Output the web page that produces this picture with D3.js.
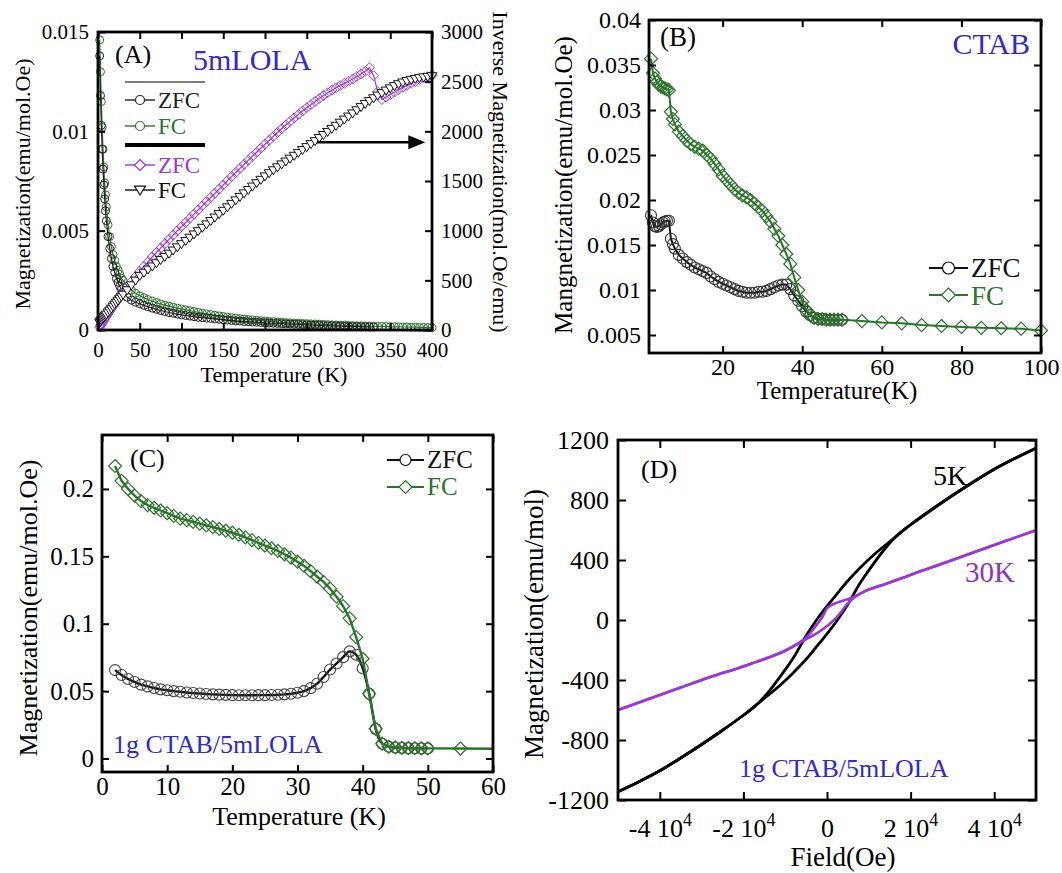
<!DOCTYPE html>
<html lang="en">
<head>
<meta charset="UTF-8">
<title>Magnetization of 5mLOLA and CTAB samples</title>
<script src="https://d3js.org/d3.v7.min.js"></script>
<style>
  body { margin: 0; background: #fff; }
  svg { display: block; }
</style>
</head>
<body>
<svg width="1062" height="873"></svg>
<script>
// ---------- (A) 5mLOLA : M(T) left axis, 1/M(T) right axis ----------
const tempA = [2,3,4,5,6,7,8,9,10,12,14,16,18,20,22,24,26,28,30,
  35,40,45,50,55,60,65,70,75,80,85,90,95,100,105,110,115,120,125,130,135,140,145,150,
  155,160,165,170,175,180,185,190,195,200,205,210,215,220,225,230,235,240,245,250,
  255,260,265,270,275,280,285,290,295,300,305,310,315,320,325,330,335,340,345,350,
  355,360,365,370,375,380,385,390,395,400];
const zfcA = [0.0138,0.0118,0.0103,0.0091,0.0081,0.0073,0.0066,0.0060,0.0055,
  0.0047,0.0041,0.0036,0.0032,0.0029,0.0026,0.0024,0.0022,0.00205,0.0019,
  0.00165,0.00150,0.00140,0.00132,0.00124,0.00117,0.00110,0.00104,0.00098,0.00093,0.00088,0.00084,0.00080,0.00076,
  0.00073,0.00070,0.00067,0.00064,0.00062,0.00060,0.00058,0.00056,0.00054,0.00052,
  0.00050,0.00048,0.00046,0.00045,0.00043,0.00042,0.00040,0.00039,0.00038,0.00036,
  0.00035,0.00034,0.00033,0.00032,0.00031,0.00030,0.00029,0.00028,0.00027,0.00026,
  0.00025,0.00024,0.00023,0.00022,0.00021,0.00021,0.00020,0.00019,0.00018,0.00018,
  0.00017,0.00017,0.00016,0.00016,0.00015,0.00015];
const fcA = [0.0146,0.0130,0.0115,0.0102,0.0091,0.0082,0.0074,0.0068,0.0062,
  0.0053,0.0047,0.0042,0.0038,0.0035,0.0032,0.0030,0.0028,0.0026,0.0025,
  0.0022,0.0020,0.00185,0.00172,0.00162,0.00153,0.00145,0.00138,0.00131,0.00125,0.00120,0.00115,0.00110,0.00106,
  0.00101,0.00097,0.00093,0.00089,0.00085,0.00081,0.00078,0.00074,0.00071,0.00068,
  0.00065,0.00062,0.00060,0.00057,0.00055,0.00053,0.00051,0.00049,0.00047,0.00045,
  0.00043,0.00042,0.00040,0.00039,0.00037,0.00036,0.00035,0.00034,0.00033,0.00032,
  0.00031,0.00030,0.00029,0.00028,0.00027,0.00026,0.00025,0.00024,0.00024,0.00023,
  0.00022,0.00021,0.00021,0.00020,0.00020,0.00019,0.00018,0.00018,0.00017,0.00017,
  0.00016,0.00016,0.00015,0.00015,0.00014,0.00014,0.00013,0.00013,0.00012,0.00012];
const invZfcA = [30,45,60,72,85,100,112,125,138,
  162,188,213,238,262,286,310,333,356,380,
  435,490,540,590,640,688,735,780,825,868,912,955,998,1040,
  1082,1124,1166,1208,1250,1292,1334,1376,1418,1460,
  1502,1544,1586,1627,1668,1709,1750,1790,1830,1870,
  1910,1949,1988,2026,2063,2100,2136,2171,2205,2238,
  2270,2301,2331,2360,2388,2414,2438,2461,2483,2504,
  2527,2552,2578,2604,2640,2560,2400,2320,2345,2370,
  2395,2420,2442,2463,2483,2502,2520,2536,2550,2563];
const invFcA = [75,85,95,105,115,125,135,145,155,
  175,195,215,235,255,275,295,315,335,355,
  400,450,497,545,576,608,640,672,704,736,768,800,832,864,
  896,929,962,995,1029,1063,1097,1132,1166,1200,
  1235,1270,1305,1340,1375,1410,1444,1478,1512,1546,
  1578,1608,1638,1667,1696,1725,1754,1783,1812,1841,
  1871,1901,1932,1963,1994,2025,2056,2087,2118,2149,
  2180,2212,2244,2276,2305,2333,2360,2385,2410,2433,
  2455,2475,2492,2506,2518,2528,2536,2543,2549,2555];
const ticksAx = [0,50,100,150,200,250,300,350,400];
const ticksAy = [0,0.005,0.01,0.015];
const ticksAyR = [0,500,1000,1500,2000,2500,3000];

// ---------- (B) CTAB ----------
const tempB = [2,2.5,3,3.5,4,4.5,5,5.5,6,6.5,7,7.5,8,
  9,10,11,12,13,14,15,16,17,18,19,20,21,22,23,24,25,26,27,28,29,30,
  31,32,33,34,35,36,37,38,39,40,41,42,43,44,45,46,47,48,49,50,
  55,60,65,70,75,80,85,90,95,100];
const fcB = [0.0357,0.0341,0.0335,0.0331,0.0328,0.0326,0.0325,0.0324,0.0323,0.0322,0.0298,0.0290,0.0284,
  0.0276,0.0271,0.0266,0.0262,0.0259,0.0257,0.0255,0.0250,0.0246,0.0240,0.0234,0.0227,
  0.0222,0.0217,0.0212,0.0208,0.0205,0.0203,0.0200,0.0196,0.0192,0.0188,
  0.0182,0.0176,0.0168,0.0160,0.0150,0.0140,0.0129,0.0114,0.0100,0.0087,
  0.0078,0.0072,0.0069,0.0068,0.00675,0.0067,0.0067,0.0067,0.0067,0.0067,
  0.00655,0.0064,0.0063,0.0061,0.0060,0.0059,0.0058,0.00575,0.0057,0.0055];
const zfcB = [0.0183,0.0175,0.0171,0.0170,0.0171,0.0173,0.0175,0.0176,0.0177,0.0177,0.0157,0.0151,0.0146,
  0.0139,0.0135,0.0131,0.0128,0.0125,0.0123,0.0121,0.0119,0.0115,0.0112,0.0109,0.0107,
  0.0105,0.0103,0.0101,0.0099,0.0098,0.0097,0.0097,0.0097,0.0098,0.0098,
  0.0099,0.0101,0.0103,0.0105,0.0106,0.0106,0.0101,0.0094,0.0088,0.0082,
  0.0076,0.0072,0.0069,0.0068,0.0068,0.0067,0.0067,0.0067,0.0067,0.0067];
const ticksBx = [20,40,60,80,100];
const ticksBy = [0.005,0.01,0.015,0.02,0.025,0.03,0.035,0.04];

// ---------- (C) 1g CTAB/5mLOLA ----------
const tempC = [2,3,4,5,6,7,8,9,10,11,12,13,14,15,16,17,18,19,20,
  21,22,23,24,25,26,27,28,29,30,31,32,33,34,35,36,37,38,39,40,
  41,42,43,44,45,46,47,48,49,50,55,60];
const fcC = [0.217,0.206,0.200,0.195,0.191,0.188,0.186,0.184,0.182,
  0.180,0.178,0.1768,0.1755,0.1743,0.173,0.1717,0.1703,0.169,0.1675,
  0.166,0.164,0.162,0.160,0.158,0.156,0.154,0.1515,0.149,0.146,
  0.143,0.139,0.135,0.131,0.126,0.120,0.113,0.104,0.090,0.074,
  0.048,0.022,0.011,0.0088,0.0082,0.0079,0.0077,0.0076,0.0075,0.0075,
  0.0074,0.0072];
const zfcC = [0.0656,0.062,0.059,0.0568,0.0548,0.0535,0.0523,0.0513,0.0506,
  0.0500,0.0495,0.0490,0.0486,0.0482,0.0479,0.0476,0.0474,0.0472,0.0470,
  0.0469,0.0469,0.0469,0.0470,0.0470,0.0471,0.0473,0.0476,0.0480,0.0488,
  0.0500,0.0522,0.0555,0.0605,0.0660,0.0705,0.0752,0.0795,0.0770,0.0670,
  0.048,0.022,0.011,0.0088,0.0082,0.0079,0.0077,0.0076,0.0075,0.0075];
const ticksCx = [0,10,20,30,40,50,60];
const ticksCy = [0,0.05,0.1,0.15,0.2];

// ---------- (D) M(H) loops, [field Oe, emu/mol] ----------
const down5K = [[50000,1145],[45000,1078],[40000,1005],[35000,920],[30000,830],[25000,735],[20000,635],
  [17000,568],[14000,500],[11000,430],[8000,350],[5000,262],[2500,178],[0,92],[-2500,0],[-5000,-105],
  [-8000,-250],[-11000,-370],[-14000,-480],[-17000,-570],[-20000,-635],[-25000,-735],[-30000,-830],
  [-35000,-920],[-40000,-1005],[-45000,-1078],[-50000,-1145]];
const up5K = [[-50000,-1145],[-45000,-1078],[-40000,-1005],[-35000,-920],[-30000,-830],[-25000,-735],[-20000,-635],
  [-17000,-568],[-14000,-500],[-11000,-430],[-8000,-350],[-5000,-262],[-2500,-178],[0,-92],[2500,0],[5000,105],
  [8000,250],[11000,370],[14000,480],[17000,570],[20000,635],[25000,735],[30000,830],
  [35000,920],[40000,1005],[45000,1078],[50000,1145]];
const up30K = [[-50000,-600],[-42000,-520],[-35000,-450],[-27000,-372],[-22000,-328],[-18000,-290],
  [-14000,-250],[-10000,-205],[-7000,-160],[-5000,-128],[-3000,-98],[-1000,-62],[0,-40],[1500,-5],
  [3000,40],[4500,95],[6000,138],[8000,175],[10000,203],[14000,240],[18000,280],[22000,322],
  [27000,370],[35000,450],[42000,520],[50000,598]];
const down30K = [[50000,598],[42000,520],[35000,450],[27000,370],[22000,322],[18000,280],[14000,240],
  [10000,203],[8000,178],[6000,148],[4500,135],[3000,122],[1500,105],[0,78],[-1000,25],[-2000,-15],
  [-3500,-70],[-5000,-118],[-7000,-158],[-10000,-205],[-14000,-250],[-18000,-290],[-22000,-328],
  [-27000,-372],[-35000,-450],[-42000,-520],[-50000,-600]];
const ticksDx = [-40000,-20000,0,20000,40000];
const ticksDy = [-1200,-800,-400,0,400,800,1200];

// ---------- helpers ----------
const svg = d3.select("svg");
const FONT = "'Liberation Serif','Times New Roman',serif";
const GREEN = "#2b742b", PURPLE = "#9b36dc", BLUE = "#2f2bcc";
svg.append("rect").attr("width", 1062).attr("height", 873).attr("fill", "#fff");

const shapes = {
  circle: s => `M${s},0A${s},${s} 0 1,1 ${-s},0A${s},${s} 0 1,1 ${s},0Z`,
  diamond: s => `M0,${-s}L${s},0L0,${s}L${-s},0Z`,
  triDown: s => `M${-s},${-0.7 * s}L${s},${-0.7 * s}L0,${0.9 * s}Z`
};

function label(x, y, s, o = {}) {
  const t = svg.append("text").attr("x", x).attr("y", y).text(s)
    .attr("font-family", FONT).attr("font-size", o.fs || 22)
    .attr("fill", o.fill || "#000").attr("text-anchor", o.anchor || "start");
  if (o.rot) t.attr("transform", `rotate(${o.rot},${x},${y})`);
  return t;
}

function axes(o) {
  const [xa, xb] = o.x.range(), [yb, ya] = o.y.range();
  const g = svg.append("g");
  const bottom = g.append("g").attr("transform", `translate(0,${yb})`)
    .call(d3.axisBottom(o.x).tickValues(o.xt).tickSize(-o.tk).tickFormat(String));
  bottom.selectAll("text").attr("y", o.xo).attr("dy", null);
  g.append("g").attr("transform", `translate(0,${ya})`)
    .call(d3.axisTop(o.x).tickValues(o.xt).tickSize(-o.tk).tickFormat(""));
  const left = g.append("g").attr("transform", `translate(${xa},0)`)
    .call(d3.axisLeft(o.y).tickValues(o.yt).tickSize(-o.tk).tickFormat(String));
  left.selectAll("text").attr("x", -o.yo);
  const right = g.append("g").attr("transform", `translate(${xb},0)`)
    .call(d3.axisRight(o.yr || o.y).tickValues(o.yrt || o.yt).tickSize(-o.tk)
      .tickFormat(o.yr ? String : ""));
  if (o.yr) right.selectAll("text").attr("x", o.yo);
  g.selectAll(".domain").remove();
  g.selectAll(".tick line").attr("stroke", "#000").attr("stroke-width", 2);
  g.selectAll(".tick text").attr("fill", "#000")
    .attr("font-size", o.fs).attr("font-family", FONT);
  svg.append("rect").attr("x", xa).attr("y", ya).attr("width", xb - xa).attr("height", yb - ya)
    .attr("fill", "none").attr("stroke", "#000").attr("stroke-width", 2.8);
  return bottom;
}

function series(pts, x, y, o) {
  const g = svg.append("g");
  if (o.lw) {
    g.append("path").datum(pts)
      .attr("d", d3.line().x(d => x(d[0])).y(d => y(d[1])).curve(o.curve || d3.curveLinear))
      .attr("fill", "none").attr("stroke", o.color).attr("stroke-width", o.lw)
      .attr("stroke-linejoin", "round");
  }
  if (o.shape) {
    g.selectAll("path.m").data(pts.filter(o.keep || (() => true))).join("path").attr("class", "m")
      .attr("transform", d => `translate(${x(d[0])},${y(d[1])})`)
      .attr("d", shapes[o.shape](o.size))
      .attr("fill", o.fill || "none").attr("stroke", o.mcolor || o.color)
      .attr("stroke-width", o.mw || 1);
  }
}

function legendRow(x1, x2, y, o) {
  svg.append("line").attr("x1", x1).attr("x2", x2).attr("y1", y).attr("y2", y)
    .attr("stroke", o.color).attr("stroke-width", o.lw);
  svg.append("path").attr("transform", `translate(${(x1 + x2) / 2},${y})`)
    .attr("d", shapes[o.shape](o.size)).attr("fill", o.fill || "#fff")
    .attr("stroke", o.color).attr("stroke-width", o.mw || 1.2);
  label(x2 + 3, o.ty, o.text, { fs: o.fs, fill: o.tcolor || o.color });
}

// ---------- panel A ----------
{
  const x = d3.scaleLinear().domain([0, 400]).range([98, 432]);
  const y = d3.scaleLinear().domain([0, 0.015]).range([330, 32]);
  const yR = d3.scaleLinear().domain([0, 3000]).range([330, 32]);

  series(d3.zip(tempA, fcA), x, y, { color: GREEN, lw: 1.2, shape: "circle", size: 4, mw: 1 });
  series(d3.zip(tempA, zfcA), x, y, { color: "#222", lw: 1.2, shape: "circle", size: 4, mw: 1 });
  series(d3.zip(tempA, invZfcA), x, yR, { color: PURPLE, lw: 1.2, shape: "diamond", size: 5, mw: 1 });
  series(d3.zip(tempA, invFcA), x, yR, { color: "#111", lw: 1.2, shape: "triDown", size: 5, fill: "#fff", mw: 1 });

  axes({ x, y, yr: yR, xt: ticksAx, yt: ticksAy, yrt: ticksAyR, tk: 7, fs: 21, xo: 27, yo: 9 });

  label(30, 184, "Magnetization(emu/mol.Oe)", { fs: 22, anchor: "middle", rot: -90 });
  label(493, 172, "Inverse Magnetization(mol.Oe/emu)", { fs: 22, anchor: "middle", rot: 90 });
  label(274, 382, "Temperature (K)", { fs: 22, anchor: "middle" });
  label(115, 63, "(A)", { fs: 26 });
  label(193, 70, "5mLOLA", { fs: 30, fill: BLUE });

  // arrow pointing to the right axis
  const ay = yR(1890), tip = x(392);
  svg.append("line").attr("x1", x(262)).attr("x2", tip - 12).attr("y1", ay).attr("y2", ay)
    .attr("stroke", "#000").attr("stroke-width", 2.4);
  svg.append("path").attr("d", `M${tip},${ay}L${tip - 17},${ay - 7}L${tip - 17},${ay + 7}Z`).attr("fill", "#000");

  // legend
  svg.append("line").attr("x1", 125).attr("x2", 205).attr("y1", 82).attr("y2", 82)
    .attr("stroke", "#000").attr("stroke-width", 1);
  svg.append("line").attr("x1", 125).attr("x2", 205).attr("y1", 145).attr("y2", 145)
    .attr("stroke", "#000").attr("stroke-width", 4);
  legendRow(125, 155, 100, { color: "#222", lw: 1.4, shape: "circle", size: 4.5, ty: 108, text: "ZFC", fs: 23 });
  legendRow(125, 155, 126, { color: GREEN, lw: 1.4, shape: "circle", size: 4.5, ty: 134, text: "FC", fs: 23 });
  legendRow(125, 155, 165, { color: PURPLE, lw: 1.4, shape: "diamond", size: 5.5, ty: 173, text: "ZFC", fs: 23 });
  legendRow(125, 155, 190, { color: "#111", lw: 1.4, shape: "triDown", size: 5.5, ty: 198, text: "FC", fs: 23 });
}

// ---------- panel B ----------
{
  const x = d3.scaleLinear().domain([1.5, 100]).range([649, 1041]);
  const y = d3.scaleLinear().domain([0.003, 0.04]).range([353, 20]);

  series(d3.zip(tempB, zfcB), x, y, { color: "#111", lw: 2, shape: "circle", size: 5.5, mcolor: "#333", mw: 1.1 });
  series(d3.zip(tempB, fcB), x, y, { color: GREEN, lw: 2, shape: "diamond", size: 6.5, mw: 1.2 });

  axes({ x, y, xt: ticksBx, yt: ticksBy, tk: 7, fs: 24, xo: 22, yo: 8 });

  label(572, 185, "Mangnetization(emu/mol.Oe)", { fs: 25, anchor: "middle", rot: -90 });
  label(837, 399, "Temperature(K)", { fs: 25, anchor: "middle" });
  label(660, 46, "(B)", { fs: 27 });
  label(1030, 54, "CTAB", { fs: 30, fill: BLUE, anchor: "end" });

  legendRow(929, 968, 268, { color: "#111", lw: 2, shape: "circle", size: 6, ty: 277, text: "ZFC", fs: 27 });
  legendRow(929, 968, 295, { color: GREEN, lw: 2, shape: "diamond", size: 7, ty: 305, text: "FC", fs: 27 });
}

// ---------- panel C ----------
{
  const x = d3.scaleLinear().domain([0, 60]).range([102, 493]);
  const y = d3.scaleLinear().domain([-0.01, 0.24]).range([772, 435]);

  series(d3.zip(tempC, zfcC), x, y, { color: "#111", lw: 2.4, shape: "circle", size: 5.5, mcolor: "#444", mw: 1.1,
    curve: d3.curveMonotoneX });
  series(d3.zip(tempC, fcC), x, y, { color: GREEN, lw: 2.4, shape: "diamond", size: 6.5, mw: 1.2,
    keep: d => d[0] < 59 });

  axes({ x, y, xt: ticksCx, yt: ticksCy, tk: 7, fs: 25, xo: 23, yo: 8 });

  label(37, 608, "Magnetization(emu/mol.Oe)", { fs: 26, anchor: "middle", rot: -90 });
  label(299, 825, "Temperature (K)", { fs: 26, anchor: "middle" });
  label(130, 467, "(C)", { fs: 26 });
  label(113, 753, "1g CTAB/5mLOLA", { fs: 26, fill: BLUE });

  legendRow(387, 424, 460, { color: "#111", lw: 2, shape: "circle", size: 5.5, ty: 468, text: "ZFC", fs: 25 });
  legendRow(387, 424, 487, { color: GREEN, lw: 2, shape: "diamond", size: 6.5, ty: 495, text: "FC", fs: 25 });
}

// ---------- panel D ----------
{
  const x = d3.scaleLinear().domain([-50000, 50000]).range([618, 1036]);
  const y = d3.scaleLinear().domain([-1200, 1200]).range([800, 440]);
  const smooth = d3.curveCatmullRom.alpha(0.5);

  series(down5K, x, y, { color: "#000", lw: 2.8, curve: smooth });
  series(up5K, x, y, { color: "#000", lw: 2.8, curve: smooth });
  series(up30K, x, y, { color: PURPLE, lw: 2.6, curve: smooth });
  series(down30K, x, y, { color: PURPLE, lw: 2.6, curve: smooth });

  const bottom = axes({ x, y, xt: ticksDx, yt: ticksDy, tk: 8, fs: 26, xo: 37, yo: 9 });
  bottom.selectAll("text").each(function (d) {
    if (d === 0) return;
    const t = d3.select(this).text("");
    t.append("tspan").text(`${d / 10000} 10`);
    t.append("tspan").attr("dy", -11).attr("font-size", 18).text("4");
  });

  label(543, 624, "Magnetization(emu/mol)", { fs: 27, anchor: "middle", rot: -90 });
  label(843, 866, "Field(Oe)", { fs: 27, anchor: "middle" });
  label(641, 478, "(D)", { fs: 26 });
  label(933, 485, "5K", { fs: 28 });
  label(965, 582, "30K", { fs: 29, fill: "#8a35b8" });
  label(739, 777, "1g CTAB/5mLOLA", { fs: 26, fill: BLUE });
}
</script>
</body>
</html>
